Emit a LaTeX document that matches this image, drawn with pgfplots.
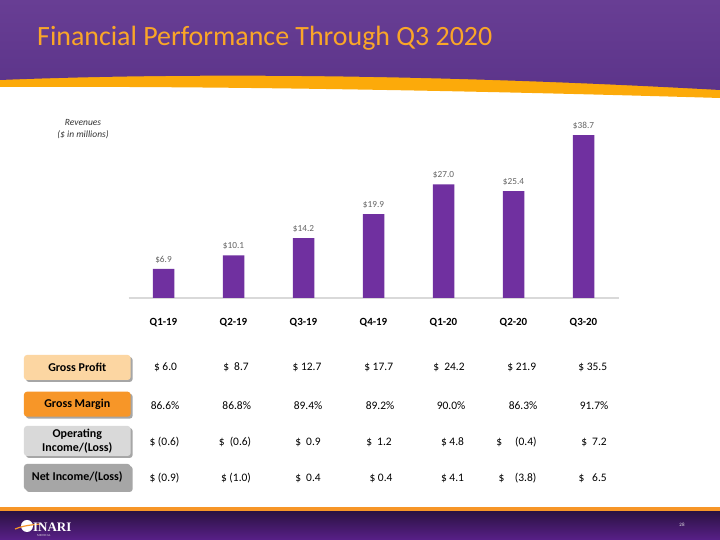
\documentclass[border=0pt]{standalone}
\usepackage{pgfplots}
\pgfplotsset{compat=1.18}
\usepackage{fontspec}
\setmainfont{Carlito}
\newfontfamily\logofont{Liberation Serif}
\usetikzlibrary{shadows}
\definecolor{hdrtop}{RGB}{104,62,148}
\definecolor{hdrbot}{RGB}{92,52,138}
\definecolor{bandorange}{RGB}{252,170,10}
\definecolor{titleorange}{RGB}{250,166,40}
\definecolor{barpurple}{RGB}{112,48,160}
\definecolor{lblgray}{RGB}{100,100,100}
\definecolor{footorange}{RGB}{247,150,40}
\definecolor{foottop}{RGB}{44,18,68}
\definecolor{footbot}{RGB}{88,32,136}
\definecolor{gpfill}{RGB}{252,214,162}
\definecolor{gmfill}{RGB}{247,150,40}
\definecolor{oifill}{RGB}{217,217,217}
\definecolor{nifill}{RGB}{166,166,166}
\begin{document}
\begin{tikzpicture}[x=1bp,y=1bp]
\useasboundingbox (0,0) rectangle (720,540);
\fill[white] (0,0) rectangle (720,540);
% header
\fill[bandorange] (0,540) -- (720,540) -- (720,442) .. controls (450,450) and (200,454) .. (0,453) -- cycle;
\shade[top color=hdrtop, bottom color=hdrbot] (0,540) -- (720,540) -- (720,450) .. controls (450,465) and (200,468) .. (0,460) -- cycle;
\node[anchor=base west, text=titleorange, font=\fontsize{28}{32}\selectfont, inner sep=0pt] at (37,494) {Financial Performance Through Q3 2020};
% footer
\fill[footorange] (0,28) rectangle (720,33);
\shade[top color=foottop, bottom color=footbot] (0,0) rectangle (720,28);
\fill[white] (27,14) circle (6);
\draw[footorange, line width=1.2bp] (15,11) .. controls (22,14) and (30,15) .. (40,16);
\node[anchor=base west, text=white, font=\logofont\bfseries\fontsize{13}{14}\selectfont, inner sep=0pt] at (33,8) {INARI};
\node[anchor=base west, text=white!80!gray, font=\logofont\fontsize{3}{4}\selectfont, inner sep=0pt] at (37,3) {MEDICAL};
\node[text=white!80!gray, font=\fontsize{5}{6}\selectfont] at (682,15) {28};
% revenues label
\node[text=black!80, font=\itshape\fontsize{9.5}{10}\selectfont] at (83,417) {Revenues};
\node[text=black!80, font=\itshape\fontsize{9.5}{10}\selectfont] at (83,405) {(\$ in millions)};
% chart
\begin{axis}[at={(128.5bp,242bp)}, anchor=south west, scale only axis,
  width=490bp, height=168.4bp, xmin=-0.5, xmax=6.5, ymin=0, ymax=40,
  axis y line=none, axis x line*=bottom,
  x axis line style={draw=black!15, line width=1.5bp, -},
  xtick=data, xticklabels={Q1-19,Q2-19,Q3-19,Q4-19,Q1-20,Q2-20,Q3-20},
  major tick length=0pt,
  xticklabel style={font=\bfseries\fontsize{11}{12}\selectfont, anchor=base, yshift=-28bp},
  /pgf/number format/assume math mode=true,
  clip=false]
\addplot[ybar, bar width=21.5bp, fill=barpurple, draw=none,
  nodes near coords={\$\pgfmathprintnumber[fixed,fixed zerofill,precision=1]{\pgfplotspointmeta}},
  every node near coord/.append style={text=lblgray, font=\fontsize{9.3}{10}\selectfont, yshift=2bp}]
  coordinates {(0,6.9) (1,10.1) (2,14.2) (3,19.9) (4,27.0) (5,25.4) (6,38.7)};
\end{axis}
% table row labels
\tikzset{rowbox/.style={fill=#1, rounded corners=3bp, minimum width=106.7bp, inner sep=1bp,
  drop shadow={shadow xshift=2bp, shadow yshift=-2bp, opacity=0.35, fill=black},
  font=\bfseries\fontsize{12}{13.5}\selectfont, align=center}}
\node[rowbox=gpfill, minimum height=25bp] at (77.3,172.5) {Gross Profit};
\node[rowbox=gmfill, minimum height=25bp] at (77.3,135.8) {Gross Margin};
\node[rowbox=oifill, minimum height=30bp] at (77.3,99) {Operating\\Income/(Loss)};
\node[rowbox=nifill, minimum height=26bp] at (77.3,63) {Net Income/(Loss)};
% table values
\tikzset{val/.style={font=\fontsize{11.5}{13}\selectfont, inner sep=0pt}}
\node[val] at (165.5,172.3) {\$ 6.0};
\node[val] at (236,172.3) {\$\ \ 8.7};
\node[val] at (307,172.3) {\$ 12.7};
\node[val] at (378.7,172.3) {\$ 17.7};
\node[val] at (449,172.3) {\$\ \ 24.2};
\node[val] at (521.7,172.3) {\$ 21.9};
\node[val] at (592.7,172.3) {\$ 35.5};
\node[val] at (165,134) {86.6\%};
\node[val] at (236.7,134) {86.8\%};
\node[val] at (308,134) {89.4\%};
\node[val] at (380,134) {89.2\%};
\node[val] at (451,134) {90.0\%};
\node[val] at (523,134) {86.3\%};
\node[val] at (594,134) {91.7\%};
\node[val] at (164.5,97.7) {\$ (0.6)};
\node[val] at (235,97.7) {\$\ \ (0.6)};
\node[val] at (308,97.7) {\$\ \ 0.9};
\node[val] at (379,97.7) {\$\ \ 1.2};
\node[val] at (452.5,97.7) {\$ 4.8};
\node[val] at (516.5,97.7) {\$\ \ \ \ \ (0.4)};
\node[val] at (594,97.7) {\$\ \ 7.2};
\node[val] at (164.5,61.7) {\$ (0.9)};
\node[val] at (236,61.7) {\$ (1.0)};
\node[val] at (308,61.7) {\$\ \ 0.4};
\node[val] at (381,61.7) {\$ 0.4};
\node[val] at (452.5,61.7) {\$ 4.1};
\node[val] at (517.5,61.7) {\$\ \ \ \ (3.8)};
\node[val] at (592.7,61.7) {\$\ \ \ 6.5};
\end{tikzpicture}
\end{document}
